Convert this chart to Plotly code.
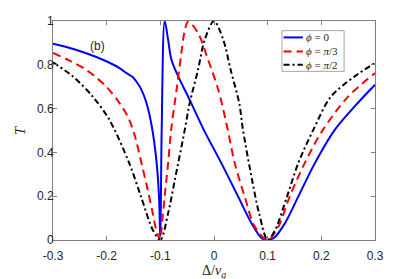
import plotly.graph_objects as go

# phi = 0 (blue, solid)
x_phi0 = [-0.3, -0.27, -0.238, -0.207, -0.176, -0.163, -0.152, -0.145, -0.136, -0.127, -0.12,
          -0.114, -0.109, -0.105, -0.102, -0.1,
          -0.0975, -0.0918, -0.0855, -0.0793, -0.0667, -0.0453, -0.019, 0.0137, 0.045,
          0.07, 0.089, 0.1, 0.112, 0.132, 0.157, 0.188, 0.225, 0.262, 0.3]
y_phi0 = [0.896, 0.878, 0.853, 0.823, 0.785, 0.762, 0.745, 0.725, 0.69, 0.635, 0.57,
          0.49, 0.40, 0.30, 0.17, 0.0,
          0.50, 1.0, 0.914, 0.823, 0.747, 0.64, 0.503, 0.351, 0.198,
          0.076, 0.008, 0.0, 0.01, 0.076, 0.198, 0.351, 0.503, 0.61, 0.709]

# phi = pi/3 (red, dashed)
x_phi3 = [-0.3, -0.27, -0.238, -0.201, -0.176, -0.16, -0.148, -0.136, -0.124, -0.114,
          -0.107, -0.1,
          -0.098, -0.092, -0.0855, -0.08, -0.069, -0.061, -0.055, -0.048,
          -0.0298, -0.011, 0.008, 0.0236, 0.0386, 0.0572, 0.076, 0.1,
          0.12, 0.141, 0.169, 0.203, 0.25, 0.3]
y_phi3 = [0.854, 0.82, 0.777, 0.701, 0.625, 0.56, 0.48, 0.36, 0.235, 0.12,
          0.04, 0.0,
          0.046, 0.198, 0.351, 0.5, 0.7, 0.85, 0.95, 0.998,
          0.945, 0.823, 0.686, 0.526, 0.351, 0.198, 0.061, 0.0,
          0.061, 0.198, 0.351, 0.503, 0.655, 0.762]

# phi = pi/2 (black, dash-dot)
x_phi2 = [-0.3, -0.263, -0.226, -0.195, -0.158, -0.136, -0.114, -0.1,
          -0.0855, -0.073, -0.0545, -0.0453, -0.0298, -0.0173, 0.0,
          0.0173, 0.031, 0.047, 0.054, 0.071, 0.084, 0.1,
          0.114, 0.136, 0.157, 0.185, 0.218, 0.262, 0.3]
y_phi2 = [0.811, 0.747, 0.655, 0.549, 0.351, 0.198, 0.046, 0.0,
          0.122, 0.274, 0.503, 0.625, 0.777, 0.914, 1.0,
          0.914, 0.777, 0.625, 0.503, 0.274, 0.122, 0.0,
          0.046, 0.198, 0.351, 0.503, 0.655, 0.747, 0.808]

x_ticks = [-0.3, -0.2, -0.1, 0, 0.1, 0.2, 0.3]
x_ticklabels = ["-0.3", "-0.2", "-0.1", "0", "0.1", "0.2", "0.3"]
y_ticks = [0, 0.2, 0.4, 0.6, 0.8, 1]
y_ticklabels = ["0", "0.2", "0.4", "0.6", "0.8", "1"]

legend_labels = ["<i>ϕ</i> = 0", "<i>ϕ</i> = <i>π</i>/3", "<i>ϕ</i> = <i>π</i>/2"]
colors = ["#0000ff", "#ff0000", "#000000"]
dashes = ["solid", "8px,5px", "6px,3px,2px,3px"]

serif = "Liberation Serif, Times New Roman, serif"
sans = "Liberation Sans, Arial, sans-serif"

fig = go.Figure()
series = [(x_phi0, y_phi0), (x_phi3, y_phi3), (x_phi2, y_phi2)]
for (xs, ys), name, c, d in zip(series, legend_labels, colors, dashes):
    fig.add_trace(go.Scatter(x=xs, y=ys, mode="lines", name=name, showlegend=False,
                             line=dict(color=c, width=2, dash=d, shape="spline", smoothing=0.9)))

axis_common = dict(showgrid=False, zeroline=False, showline=True, linecolor="#808080", linewidth=1,
                   mirror="ticks", ticks="inside", ticklen=4, tickcolor="#808080", automargin=False,
                   tickfont=dict(family=sans, size=12, color="#262626"))

# manual legend (compact, MATLAB-like)
shapes = [dict(type="rect", xref="paper", yref="paper", x0=0.711, x1=0.904, y0=0.770, y1=0.956,
               fillcolor="white", line=dict(color="#a6a6a6", width=1), layer="above")]
annotations = [
    dict(x=0.108, y=0.928, xref="paper", yref="paper", text="(b)", showarrow=False,
         font=dict(family=sans, size=12, color="#262626")),
    # axis titles
    dict(x=0.5, y=-0.145, xref="paper", yref="paper", text="Δ/<i>v</i><sub><i>g</i></sub>",
         showarrow=False, xanchor="center", yanchor="middle",
         font=dict(family=serif, size=14, color="#262626")),
    dict(x=-0.103, y=0.5, xref="paper", yref="paper", text="<i>T</i>", textangle=-90,
         showarrow=False, xanchor="center", yanchor="middle",
         font=dict(family=serif, size=15, color="#262626")),
]
row_y = [0.925, 0.861, 0.800]
for ry, lab, c, d in zip(row_y, legend_labels, colors, dashes):
    shapes.append(dict(type="line", xref="paper", yref="paper", x0=0.716, x1=0.776, y0=ry, y1=ry,
                       line=dict(color=c, width=2, dash=d), layer="above"))
    annotations.append(dict(x=0.779, y=ry, xref="paper", yref="paper", text=lab, showarrow=False,
                            xanchor="left", yanchor="middle",
                            font=dict(family=serif, size=11, color="#262626")))

# page body has an 8px margin, so the figure is sized to fit the window from that offset
fig.update_layout(
    width=407, height=271, autosize=False,
    margin=dict(l=45, r=40, t=13, b=39),
    paper_bgcolor="white", plot_bgcolor="white",
    xaxis=dict(range=[-0.3, 0.3], tickvals=x_ticks, ticktext=x_ticklabels,
               ticklabelstandoff=5, **axis_common),
    yaxis=dict(range=[0, 1], tickvals=y_ticks, ticktext=y_ticklabels,
               ticklabelstandoff=-4, **axis_common),
    showlegend=False,
    shapes=shapes,
    annotations=annotations,
)

fig.write_html("out.html")
